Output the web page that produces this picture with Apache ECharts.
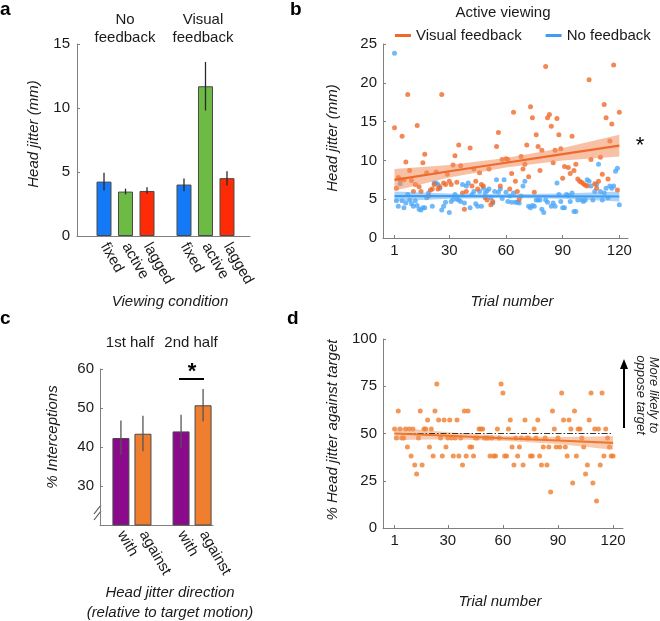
<!DOCTYPE html>
<html><head><meta charset="utf-8">
<script src="https://cdn.jsdelivr.net/npm/echarts@6/dist/echarts.min.js"></script>
<style>html,body{margin:0;padding:0;background:#fff}#c{width:660px;height:621px}</style>
</head><body><div id="c"></div>
<script>
// ---------- Panel a ----------
const conditionsA = ['fixed', 'active', 'lagged'];
const groupsA = ['No\nfeedback', 'Visual\nfeedback'];
const noFbMean = [4.25, 3.47, 3.52];
const noFbLo   = [3.55, 3.25, 3.30];
const noFbHi   = [4.95, 3.70, 3.80];
const visFbMean = [4.02, 11.70, 4.52];
const visFbLo   = [3.50, 9.80, 3.95];
const visFbHi   = [4.50, 13.60, 5.05];
const ticksA = [0, 5, 10, 15];

// ---------- Panel b ----------
const trialTicks = [1, 30, 60, 90, 120];
const visJitter = [
 14.2,6.4,7.8,7.5,13.1,7.5,9.8,18.5,8.7,7.4,
 6.0,6.9,14.5,6.6,6.0,9.7,10.8,8.4,5.4,6.2,
 6.3,6.9,8.5,6.3,6.6,18.5,7.1,6.9,8.2,7.3,
 6.9,9.4,10.6,7.2,12.0,9.3,5.8,3.7,6.0,null,
 11.6,6.7,8.9,7.3,6.3,8.4,6.9,6.7,5.2,4.9,
 8.9,4.3,4.7,null,11.8,13.6,6.7,10.1,null,10.2,
 10.1,6.3,8.3,16.2,7.3,6.0,5.0,10.5,8.9,9.5,
 12.0,7.9,16.9,15.5,5.9,13.3,11.8,8.7,11.3,null,
 22.1,15.5,15.9,14.4,9.7,11.3,15.4,13.3,11.5,7.7,
 9.2,null,9.1,8.3,13.1,8.7,9.5,7.6,7.3,7.2,
 7.0,6.8,6.7,20.4,10.1,null,7.0,6.4,7.3,10.4,
 8.2,17.2,15.5,7.6,12.5,14.7,22.3,null,6.2,16.2];
const noFbJitter = [
 23.8,4.8,4.1,7.0,4.8,3.9,4.5,5.6,4.9,4.4,
 4.1,4.8,4.2,3.7,3.6,3.9,3.9,5.2,5.8,null,
 4.1,7.1,7.1,6.9,6.4,3.6,4.1,4.6,null,3.3,
 4.7,5.0,5.6,5.0,4.9,4.7,6.9,4.5,6.7,7.1,
 3.9,5.6,6.0,4.4,4.1,6.0,4.1,6.4,5.8,6.1,
 6.3,5.2,4.5,6.0,7.5,5.9,6.3,5.1,7.5,5.9,
 4.7,5.4,4.6,5.8,4.6,4.6,4.5,5.4,6.7,7.3,
 null,4.1,3.9,4.2,4.1,4.9,4.9,4.9,3.7,3.3,
 4.9,4.6,null,4.1,4.5,4.1,7.1,5.6,4.7,3.9,
 3.9,5.6,5.5,4.7,5.8,3.4,3.4,4.9,null,4.9,
 4.7,4.9,7.5,7.3,6.7,4.9,6.0,6.9,9.5,6.0,
 4.9,5.8,6.4,5.2,6.7,6.4,6.7,8.6,9.0,4.3];
// regression fits and confidence bands (read at these trials)
const fitTrials = [1, 30, 60, 90, 120];
const visFit   = [7.5, 8.6, 9.7, 10.8, 11.9];
const visBandLo = [6.1, 7.8, 9.1, 10.0, 10.5];
const visBandHi = [8.9, 9.4, 10.3, 11.6, 13.3];
const noFbFit   = [5.40, 5.39, 5.38, 5.36, 5.35];
const noFbBandLo = [4.75, 5.05, 5.15, 5.05, 4.70];
const noFbBandHi = [6.00, 5.75, 5.65, 5.75, 6.00];
const ticksB = [0, 5, 10, 15, 20, 25];

// ---------- Panel c ----------
const halvesC = ['1st half', '2nd half'];
const directionsC = ['with', 'against'];
const firstMean = [42.3, 43.4];
const firstLo   = [38.1, 38.9];
const firstHi   = [46.8, 48.0];
const secondMean = [44.0, 50.7];
const secondLo   = [39.9, 46.6];
const secondHi   = [48.3, 54.9];
const ticksC = [30, 40, 50, 60];

// ---------- Panel d ----------
const againstPct = [
 52.4,47.6,61.9,52.4,47.6,47.6,52.4,42.9,52.4,38.1,
 52.4,33.3,28.6,47.6,61.9,33.3,52.4,52.4,57.1,42.9,
 52.4,38.1,61.9,76.2,57.1,47.6,38.1,57.1,42.9,47.6,
 57.1,47.6,38.1,47.6,57.1,38.1,47.6,33.3,61.9,38.1,
 61.9,42.9,42.9,38.1,47.6,47.6,52.4,52.4,52.4,47.6,
 47.6,47.6,38.1,47.6,38.1,38.1,52.4,47.6,76.2,71.4,
 38.1,38.1,52.4,57.1,42.9,33.3,47.6,38.1,42.9,47.6,
 33.3,57.1,47.6,47.6,38.1,38.1,52.4,47.6,57.1,38.1,
 33.3,42.9,47.6,33.3,42.9,19.0,61.9,52.4,42.9,47.6,
 42.9,71.4,57.1,42.9,38.1,57.1,52.4,23.8,61.9,38.1,
 52.4,52.4,47.6,42.9,28.6,33.3,57.1,71.4,23.8,52.4,
 14.3,52.4,33.3,71.4,38.1,52.4,47.6,42.9,38.1,38.1];
const againstFit    = [50.0, 48.8, 47.5, 46.3, 45.0];
const againstBandLo = [46.6, 47.0, 46.2, 44.5, 41.4];
const againstBandHi = [53.3, 50.6, 48.8, 48.1, 48.6];
const chanceLevel = 50;
const ticksD = [0, 25, 50, 75, 100];

// ================= build =================
const FONT = '"Liberation Sans", Arial, Helvetica, sans-serif';
const TXT = '#1a1a1a', AX = '#808080';
const C_BLUE = '#1479f6', C_GREEN = '#6dbb45', C_RED = '#ff2b06';
const C_ORANGE = '#f0692a', C_LBLUE = '#4ea7f6';
const C_PURPLE = '#8b0a8b', C_ORANGE2 = '#ef7e2f';
const barColorsA = [C_BLUE, C_GREEN, C_RED];
const barColorsC = [C_PURPLE, C_ORANGE2];

const GAP_A = 3.72, GAP_C = 2.73;
const posA = [], labA = [];
groupsA.forEach((g, gi) => conditionsA.forEach((c, ci) => { posA.push(gi * GAP_A + ci); labA.push(c); }));
const posC = [], labC = [];
halvesC.forEach((h, gi) => directionsC.forEach((d, di) => { posC.push(gi * GAP_C + di); labC.push(d); }));

const meansA = [noFbMean, visFbMean], losA = [noFbLo, visFbLo], hisA = [noFbHi, visFbHi];
const barDataA = [], errDataA = [];
groupsA.forEach((g, gi) => conditionsA.forEach((c, ci) => {
  const x = gi * GAP_A + ci;
  barDataA.push({ value: [x, meansA[gi][ci]], itemStyle: { color: barColorsA[ci] } });
  errDataA.push([x, losA[gi][ci], hisA[gi][ci]]);
}));
const meansC = [firstMean, secondMean], losC = [firstLo, secondLo], hisC = [firstHi, secondHi];
const barDataC = [], errDataC = [];
halvesC.forEach((h, gi) => directionsC.forEach((d, di) => {
  const x = gi * GAP_C + di;
  barDataC.push({ value: [x, meansC[gi][di]], itemStyle: { color: barColorsC[di] } });
  errDataC.push([x, losC[gi][di], hisC[gi][di]]);
}));

const toPts = arr => arr.map((v, i) => v == null ? null : [i + 1, v]).filter(p => p);
const pairs = (xs, ys) => xs.map((x, i) => [x, ys[i]]);

function labelFmt(pos, lab) {
  return v => { const k = pos.findIndex(p => Math.abs(p - v) < 1e-6); return k < 0 ? '' : lab[k]; };
}
const axLine = { show: true, onZero: false, lineStyle: { color: AX, width: 1 } };
const lblStyle = { color: TXT, fontSize: 15, fontFamily: FONT };

function errSeries(xi, yi, data, color) {
  return {
    type: 'custom', xAxisIndex: xi, yAxisIndex: yi, data, z: 5, silent: true,
    encode: { x: 0, y: [1, 2] },
    renderItem: (params, api) => {
      const p1 = api.coord([api.value(0), api.value(1)]);
      const p2 = api.coord([api.value(0), api.value(2)]);
      return { type: 'line', shape: { x1: p1[0], y1: p1[1], x2: p2[0], y2: p2[1] },
               style: { stroke: color, lineWidth: 1.3 } };
    }
  };
}
// confidence band drawn as one polygon through the axes' own coordinate mapping
function band(xi, yi, lo, hi, color) {
  const data = fitTrials.map((x, i) => [x, lo[i], hi[i]]);
  return {
    type: 'custom', xAxisIndex: xi, yAxisIndex: yi, data, z: 3, silent: true,
    encode: { x: 0, y: [1, 2] },
    renderItem: (params, api) => {
      if (params.dataIndexInside !== 0) return null;
      const n = params.dataInsideLength;
      const up = [], dn = [];
      for (let k = 0; k < n; k++) {
        up.push(api.coord([api.value(0, k), api.value(2, k)]));
        dn.push(api.coord([api.value(0, k), api.value(1, k)]));
      }
      return {
        type: 'group', children: [
          { type: 'polyline', shape: { points: up, smooth: 0.35 }, style: { stroke: 'none', fill: 'none' } },
          { type: 'polygon', shape: { points: up.concat(dn.reverse()), smooth: 0 }, style: { fill: color } }
        ]
      };
    }
  };
}

const option = {
  animation: false,
  textStyle: { fontFamily: FONT },
  grid: [
    { left: 77, top: 44, width: 173, height: 192, outerBoundsMode: 'none' },
    { left: 383, top: 44, width: 245, height: 194, outerBoundsMode: 'none' },
    { left: 100, top: 369, width: 113, height: 156, outerBoundsMode: 'none' },
    { left: 383, top: 339, width: 240, height: 189, outerBoundsMode: 'none' }
  ],
  xAxis: [
    { gridIndex: 0, type: 'value', min: -1.256, max: 6.79, axisLine: axLine, splitLine: { show: false },
      axisTick: { show: false },
      axisLabel: Object.assign({ customValues: posA, rotate: -60, margin: 8, formatter: labelFmt(posA, labA) }, lblStyle) },
    { gridIndex: 1, type: 'value', min: -5.1, max: 124.6, axisLine: axLine, splitLine: { show: false },
      axisTick: { show: true, inside: true, length: 3, customValues: trialTicks, lineStyle: { color: AX } },
      axisLabel: Object.assign({ customValues: trialTicks, margin: 5 }, lblStyle) },
    { gridIndex: 2, type: 'value', min: -0.95, max: 4.18, axisLine: axLine, splitLine: { show: false },
      axisTick: { show: false },
      axisLabel: Object.assign({ customValues: posC, rotate: -60, margin: 7, formatter: labelFmt(posC, labC) }, lblStyle) },
    { gridIndex: 3, type: 'value', min: -5.3, max: 125.4, axisLine: axLine, splitLine: { show: false },
      axisTick: { show: true, inside: true, length: 3, customValues: trialTicks, lineStyle: { color: AX } },
      axisLabel: Object.assign({ customValues: trialTicks, margin: 5 }, lblStyle) }
  ],
  yAxis: [
    { gridIndex: 0, type: 'value', min: 0, max: 15, axisLine: axLine, splitLine: { show: false },
      axisTick: { show: true, inside: true, length: 3, customValues: ticksA, lineStyle: { color: AX } },
      axisLabel: Object.assign({ customValues: ticksA, margin: 7 }, lblStyle) },
    { gridIndex: 1, type: 'value', min: 0, max: 25, axisLine: axLine, splitLine: { show: false },
      axisTick: { show: true, inside: true, length: 3, customValues: ticksB, lineStyle: { color: AX } },
      axisLabel: Object.assign({ customValues: ticksB, margin: 6 }, lblStyle) },
    { gridIndex: 2, type: 'value', min: 20, max: 60, axisLine: axLine, splitLine: { show: false },
      axisTick: { show: true, inside: true, length: 3, customValues: ticksC, lineStyle: { color: AX } },
      axisLabel: Object.assign({ customValues: ticksC, margin: 6 }, lblStyle) },
    { gridIndex: 3, type: 'value', min: 0, max: 100, axisLine: axLine, splitLine: { show: false },
      axisTick: { show: true, inside: true, length: 3, customValues: ticksD, lineStyle: { color: AX } },
      axisLabel: Object.assign({ customValues: ticksD, margin: 6 }, lblStyle) }
  ],
  legend: {
    left: 395, top: 28, padding: 0, itemWidth: 16, itemHeight: 3, itemGap: 24, icon: 'rect',
    orient: 'horizontal', width: 265,
    data: ['Visual feedback', 'No feedback'],
    textStyle: { fontSize: 15, fontFamily: FONT, color: TXT }
  },
  series: [
    // panel a
    { type: 'bar', xAxisIndex: 0, yAxisIndex: 0, data: barDataA, barWidth: 15,
      itemStyle: { borderColor: '#4a4a4a', borderWidth: 1 }, silent: true },
    errSeries(0, 0, errDataA, '#2a2a2a'),
    // panel b
    { type: 'scatter', xAxisIndex: 1, yAxisIndex: 1, data: toPts(noFbJitter), symbolSize: 5,
      itemStyle: { color: C_LBLUE }, silent: true, z: 2 },
    { type: 'scatter', xAxisIndex: 1, yAxisIndex: 1, data: toPts(visJitter), symbolSize: 5,
      itemStyle: { color: C_ORANGE }, silent: true, z: 2 },
    band(1, 1, visBandLo, visBandHi, 'rgba(242,140,90,0.55)'),
    band(1, 1, noFbBandLo, noFbBandHi, 'rgba(90,170,245,0.5)'),
    { name: 'Visual feedback', type: 'line', xAxisIndex: 1, yAxisIndex: 1, data: pairs(fitTrials, visFit),
      symbol: 'none', color: '#ee6a2c', lineStyle: { width: 2.2, color: '#ee6a2c' }, z: 4, silent: true },
    { name: 'No feedback', type: 'line', xAxisIndex: 1, yAxisIndex: 1, data: pairs(fitTrials, noFbFit),
      symbol: 'none', color: '#3f9ef2', lineStyle: { width: 2.2, color: '#3f9ef2' }, z: 4, silent: true },
    // panel c
    { type: 'bar', xAxisIndex: 2, yAxisIndex: 2, data: barDataC, barWidth: 17,
      itemStyle: { borderColor: '#4a4a4a', borderWidth: 1 }, silent: true },
    errSeries(2, 2, errDataC, '#555555'),
    // panel d
    { type: 'scatter', xAxisIndex: 3, yAxisIndex: 3, data: toPts(againstPct), symbolSize: 5,
      itemStyle: { color: '#f07d2c' }, silent: true, z: 2 },
    band(3, 3, againstBandLo, againstBandHi, 'rgba(242,150,100,0.5)'),
    { type: 'line', xAxisIndex: 3, yAxisIndex: 3, data: [[fitTrials[0], chanceLevel], [fitTrials[fitTrials.length - 1], chanceLevel]],
      symbol: 'none', lineStyle: { width: 1, color: '#333', type: [6, 2, 1.5, 2] }, z: 4, silent: true },
    { type: 'line', xAxisIndex: 3, yAxisIndex: 3, data: pairs(fitTrials, againstFit),
      symbol: 'none', lineStyle: { width: 2.2, color: '#ee7a2c' }, z: 5, silent: true }
  ],
  graphic: [
    // panel letters
    { type: 'text', x: 0, y: 0, style: { text: 'a', font: 'bold 19px ' + FONT, fill: '#000' } },
    { type: 'text', x: 290, y: 0, style: { text: 'b', font: 'bold 19px ' + FONT, fill: '#000' } },
    { type: 'text', x: 0, y: 309, style: { text: 'c', font: 'bold 19px ' + FONT, fill: '#000' } },
    { type: 'text', x: 287, y: 309, style: { text: 'd', font: 'bold 19px ' + FONT, fill: '#000' } },
    // panel a texts
    { type: 'text', x: 125, y: 29, style: { text: groupsA[0], font: '15px ' + FONT, fill: TXT, align: 'center', verticalAlign: 'middle', lineHeight: 18 } },
    { type: 'text', x: 203, y: 29, style: { text: groupsA[1], font: '15px ' + FONT, fill: TXT, align: 'center', verticalAlign: 'middle', lineHeight: 18 } },
    { type: 'text', x: 34, y: 134, rotation: Math.PI / 2, style: { text: 'Head jitter (mm)', font: 'italic 15px ' + FONT, fill: TXT, align: 'center', verticalAlign: 'middle' } },
    { type: 'text', x: 170, y: 302, style: { text: 'Viewing condition', font: 'italic 15px ' + FONT, fill: TXT, align: 'center', verticalAlign: 'middle' } },
    // panel b texts
    { type: 'text', x: 503, y: 13, style: { text: 'Active viewing', font: '15px ' + FONT, fill: TXT, align: 'center', verticalAlign: 'middle' } },
    { type: 'text', x: 333, y: 138, rotation: Math.PI / 2, style: { text: 'Head jitter (mm)', font: 'italic 15px ' + FONT, fill: TXT, align: 'center', verticalAlign: 'middle' } },
    { type: 'text', x: 512, y: 302, style: { text: 'Trial number', font: 'italic 15px ' + FONT, fill: TXT, align: 'center', verticalAlign: 'middle' } },
    { type: 'text', x: 640, y: 146, style: { text: '*', font: '22px ' + FONT, fill: '#000', align: 'center', verticalAlign: 'middle' } },
    // panel c texts
    { type: 'text', x: 130, y: 343, style: { text: halvesC[0], font: '15px ' + FONT, fill: TXT, align: 'center', verticalAlign: 'middle' } },
    { type: 'text', x: 191, y: 343, style: { text: halvesC[1], font: '15px ' + FONT, fill: TXT, align: 'center', verticalAlign: 'middle' } },
    { type: 'text', x: 53, y: 437, rotation: Math.PI / 2, style: { text: '% Interceptions', font: 'italic 15px ' + FONT, fill: TXT, align: 'center', verticalAlign: 'middle' } },
    { type: 'text', x: 170, y: 593, style: { text: 'Head jitter direction', font: 'italic 15px ' + FONT, fill: TXT, align: 'center', verticalAlign: 'middle' } },
    { type: 'text', x: 170, y: 613, style: { text: '(relative to target motion)', font: 'italic 15px ' + FONT, fill: TXT, align: 'center', verticalAlign: 'middle' } },
    { type: 'line', shape: { x1: 179, y1: 379, x2: 204, y2: 379 }, style: { stroke: '#000', lineWidth: 2 } },
    { type: 'text', x: 192, y: 372, style: { text: '*', font: 'bold 22px ' + FONT, fill: '#000', align: 'center', verticalAlign: 'middle' } },
    { type: 'line', shape: { x1: 94, y1: 514, x2: 101, y2: 505 }, style: { stroke: '#555', lineWidth: 1.2 } },
    { type: 'line', shape: { x1: 94, y1: 520, x2: 101, y2: 511 }, style: { stroke: '#555', lineWidth: 1.2 } },
    // panel d texts
    { type: 'text', x: 333, y: 430, rotation: Math.PI / 2, style: { text: '% Head jitter against target', font: 'italic 15px ' + FONT, fill: TXT, align: 'center', verticalAlign: 'middle' } },
    { type: 'text', x: 500, y: 602, style: { text: 'Trial number', font: 'italic 15px ' + FONT, fill: TXT, align: 'center', verticalAlign: 'middle' } },
    { type: 'line', shape: { x1: 624, y1: 428, x2: 624, y2: 366 }, style: { stroke: '#000', lineWidth: 2 } },
    { type: 'polygon', shape: { points: [[624, 359], [620, 369], [628, 369]] }, style: { fill: '#000' } },
    { type: 'text', x: 647, y: 395, rotation: -Math.PI / 2, style: { text: 'More likely to\noppose target', font: 'italic 13px ' + FONT, fill: TXT, align: 'center', verticalAlign: 'middle', lineHeight: 13 } }
  ]
};
const chart = echarts.init(document.getElementById('c'), null, { renderer: 'canvas' });
chart.setOption(option);
</script></body></html>
